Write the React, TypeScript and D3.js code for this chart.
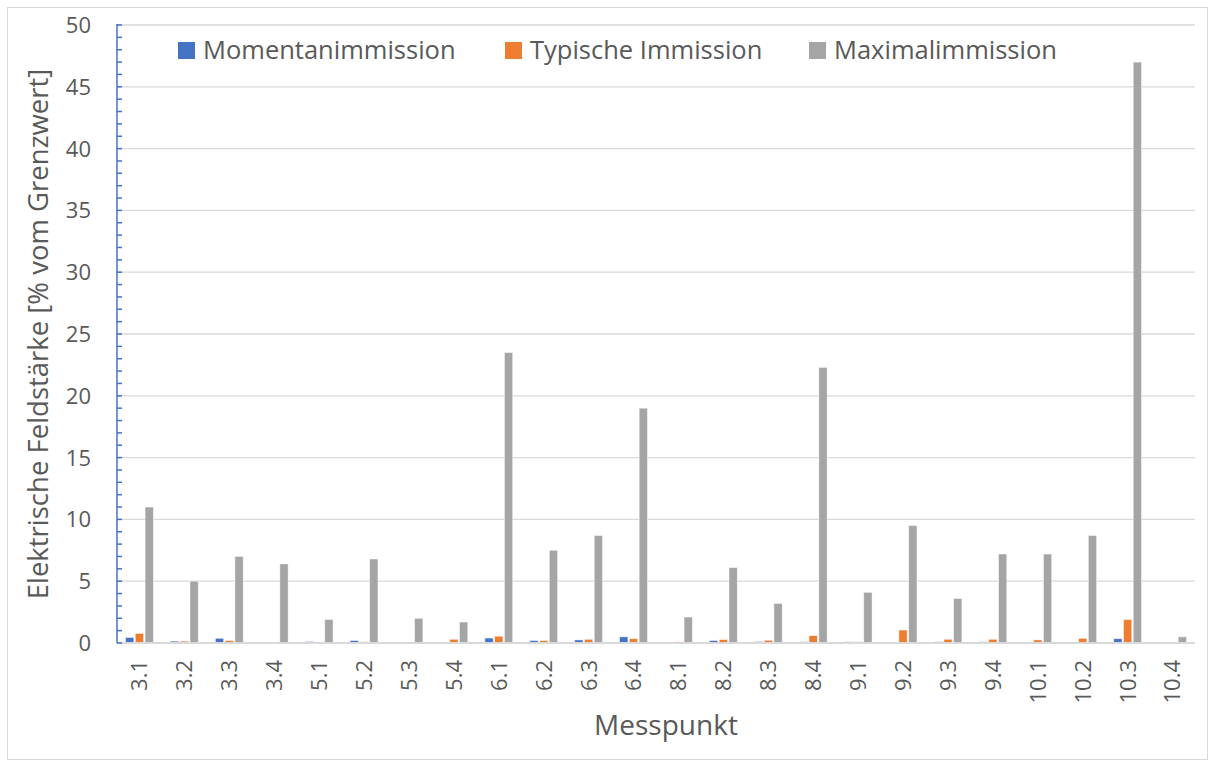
import React from 'react'
import * as d3 from 'd3'

const categories = ['3.1', '3.2', '3.3', '3.4', '5.1', '5.2', '5.3', '5.4', '6.1', '6.2', '6.3', '6.4',
  '8.1', '8.2', '8.3', '8.4', '9.1', '9.2', '9.3', '9.4', '10.1', '10.2', '10.3', '10.4']

const momentan = [0.45, 0.15, 0.38, 0, 0.12, 0.2, 0.05, 0, 0.4, 0.2, 0.25, 0.5,
  0, 0.2, 0.12, 0.1, 0.1, 0.05, 0.1, 0.1, 0.05, 0, 0.35, 0]
const typisch = [0.78, 0.15, 0.2, 0, 0, 0.1, 0, 0.3, 0.55, 0.2, 0.3, 0.35,
  0.1, 0.28, 0.22, 0.6, 0.1, 1.05, 0.3, 0.3, 0.25, 0.38, 1.9, 0]
const maximal = [11, 5, 7, 6.4, 1.9, 6.8, 2.0, 1.7, 23.5, 7.5, 8.7, 19,
  2.1, 6.1, 3.2, 22.3, 4.1, 9.5, 3.6, 7.2, 7.2, 8.7, 47, 0.5]

const seriesNames = ['Momentanimmission', 'Typische Immission', 'Maximalimmission']
const seriesValues = [momentan, typisch, maximal]
const colors = ['#4472c4', '#ed7d31', '#a5a5a5']
const yTicks = [0, 5, 10, 15, 20, 25, 30, 35, 40, 45, 50]

const W = 1213
const H = 767
const left = 117
const right = 1195
const top = 25
const bottom = 643
const font = '"Open Sans", sans-serif'
const textColor = '#595959'

export default function App() {
  const x0 = d3.scaleBand<string>().domain(categories).range([left, right])
    .paddingInner(0.38).paddingOuter(0.19)
  const x1 = d3.scaleBand<number>().domain([0, 1, 2]).range([0, x0.bandwidth()]).paddingInner(0.15)
  const y = d3.scaleLinear().domain([0, 50]).range([bottom, top])
  const minor = d3.range(0, 51, 1)

  return (
    <svg width={W} height={H} style={{ position: 'absolute', left: 0, top: 0 }}>
      <rect x={0} y={0} width={W} height={H} fill="#fff" />
      <rect x={7.5} y={7.5} width={1200} height={752} fill="none" stroke="#d9d9d9" />

      {yTicks.filter(t => t > 0).map(t => (
        <line key={t} x1={left} x2={right} y1={y(t)} y2={y(t)} stroke="#d9d9d9" strokeWidth={1.3} />
      ))}

      {seriesValues.map((vals, si) => (
        <g key={si}>
          {categories.map((c, i) => vals[i] > 0 && (
            <rect key={c}
              x={(x0(c) as number) + (x1(si) as number)}
              y={y(vals[i])}
              width={x1.bandwidth()}
              height={bottom - y(vals[i])}
              fill={colors[si]}
              stroke="#fff" strokeOpacity={0.6} strokeWidth={0.8} />
          ))}
        </g>
      ))}

      <line x1={left} x2={right} y1={bottom} y2={bottom} stroke="#d9d9d9" strokeWidth={2} />
      <line x1={left} x2={left} y1={top - 1} y2={bottom} stroke="#4472c4" strokeWidth={1.5} />
      {minor.map(t => (
        <line key={t} x1={left} x2={left + 5} y1={y(t)} y2={y(t)} stroke="#4472c4" strokeWidth={1.5} />
      ))}

      {yTicks.map(t => (
        <text key={t} x={91} y={y(t)} dy="0.36em" textAnchor="end" fontFamily={font} fontSize={22} fill={textColor}>{t}</text>
      ))}

      {categories.map(c => {
        const cx = (x0(c) as number) + x0.bandwidth() / 2
        return (
          <text key={c} transform={`translate(${cx},660) rotate(-90)`} dy="0.36em" textAnchor="end"
            fontFamily={font} fontSize={22} fill={textColor}>{c}</text>
        )
      })}

      <text x={666} y={735} textAnchor="middle" fontFamily={font} fontSize={28} fill={textColor}>Messpunkt</text>
      <text transform="translate(48,334) rotate(-90)" textAnchor="middle" fontFamily={font} fontSize={27.5} fill={textColor}>
        Elektrische Feldstärke [% vom Grenzwert]
      </text>

      {seriesNames.map((s, i) => {
        const lx = [178, 505, 809][i]
        return (
          <g key={s}>
            <rect x={lx} y={42} width={17} height={17} fill={colors[i]} />
            <text x={lx + 25} y={50} dy="0.36em" fontFamily={font} fontSize={25.5} fill={textColor}>{s}</text>
          </g>
        )
      })}
    </svg>
  )
}
